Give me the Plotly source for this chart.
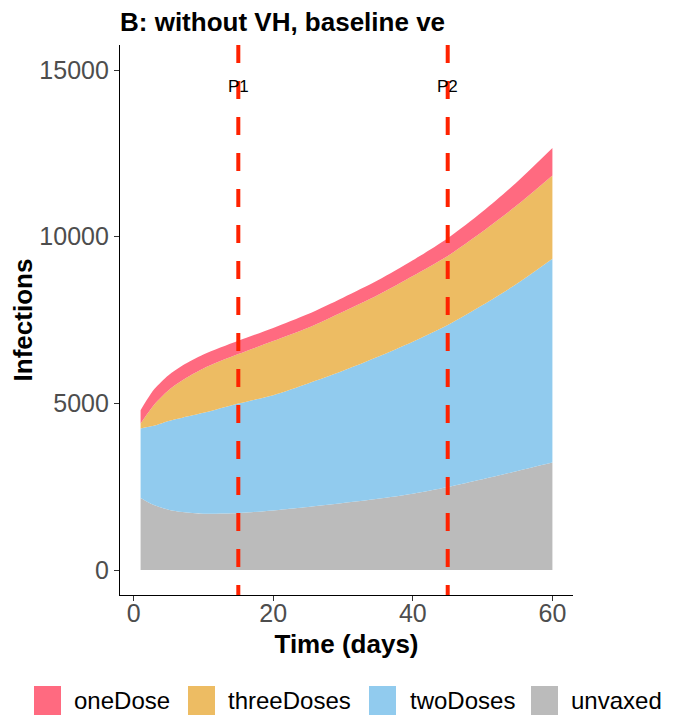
import plotly.graph_objects as go

# ---- data ----
days = [1, 2, 3, 5, 7, 10, 15, 20, 25, 30, 35, 40, 45, 50, 55, 60]
unvaxed = [2158, 2040, 1939, 1809, 1738, 1688, 1708, 1788, 1889, 2009, 2139, 2290, 2490, 2720, 2970, 3222]
twoDoses = [2085, 2250, 2396, 2664, 2832, 3026, 3287, 3457, 3707, 3967, 4258, 4558, 4859, 5230, 5632, 6117]
threeDoses = [150, 404, 639, 922, 1126, 1333, 1482, 1623, 1672, 1774, 1853, 1974, 2074, 2204, 2354, 2498]
oneDose = [401, 440, 460, 450, 440, 420, 400, 395, 410, 420, 440, 470, 532, 600, 700, 823]

phase_days = [15, 45]
phase_labels = ["P1", "P2"]
phase_label_y = 14500

x_ticks = [0, 20, 40, 60]
y_ticks = [0, 5000, 10000, 15000]

series_names = ["unvaxed", "twoDoses", "threeDoses", "oneDose"]
series_values = [unvaxed, twoDoses, threeDoses, oneDose]
colors = {"oneDose": "#FF6A80", "threeDoses": "#EDBC63", "twoDoses": "#91CBEE", "unvaxed": "#BBBBBB"}
legend_order = ["oneDose", "threeDoses", "twoDoses", "unvaxed"]

FONT = "Liberation Sans, Arial, sans-serif"
OFF = 8  # page body margin offset
W, H = 673 - OFF, 717 - OFF
ML, MT, PW, PH = 120 - OFF, 45 - OFF, 453, 550
MR = W - ML - PW
MB = H - MT - PH

fig = go.Figure()
for name, vals in zip(series_names, series_values):
    fig.add_trace(go.Scatter(
        x=days, y=vals, name=name, stackgroup="one", mode="lines",
        line=dict(width=0, shape="spline", smoothing=0.8),
        fillcolor=colors[name], showlegend=False, hoverinfo="x+y+name",
    ))

for d, lab in zip(phase_days, phase_labels):
    fig.add_shape(type="line", xref="x", yref="paper", x0=d, x1=d, y0=1, y1=0,
                  line=dict(color="#FF2200", width=4, dash="18px,18px"))
    fig.add_annotation(x=d, y=phase_label_y, xref="x", yref="y", text=lab,
                       showarrow=False, font=dict(family=FONT, size=17, color="black"),
                       xanchor="center", yanchor="middle")

# ---- custom legend (large square keys like ggplot), positions in window px ----
def pxx(px):
    return (px - OFF - ML) / PW

def pxy(py):
    return (MT + PH - (py - OFF)) / PH

key_left = [34, 188, 369, 531]
text_left = [72, 226, 408, 569]
key_w, key_top, key_bot, text_y = 27, 686, 715, 700
for name, kl, tl in zip(legend_order, key_left, text_left):
    fig.add_shape(type="rect", xref="paper", yref="paper",
                  x0=pxx(kl), x1=pxx(kl + key_w), y0=pxy(key_bot), y1=pxy(key_top),
                  fillcolor=colors[name], line=dict(width=0))
    fig.add_annotation(xref="paper", yref="paper", x=pxx(tl), y=pxy(text_y), text=name,
                       showarrow=False, xanchor="left", yanchor="middle",
                       font=dict(family=FONT, size=24, color="black"))

axis_common = dict(
    showgrid=False, zeroline=False, showline=True, linecolor="black", linewidth=1.2,
    ticks="outside", ticklen=5, tickwidth=1.1, tickcolor="#333333", automargin=False,
    tickfont=dict(family=FONT, size=25, color="#4D4D4D"),
)

fig.update_layout(
    width=W, height=H,
    margin=dict(l=ML, r=MR, t=MT, b=MB, autoexpand=False),
    paper_bgcolor="white", plot_bgcolor="white",
    title=dict(text="B: without VH, baseline ve", x=0, xref="paper", xanchor="left",
               y=1 - 14 / H, yref="container", yanchor="middle",
               font=dict(family=FONT, size=26, color="black", weight="bold")),
    xaxis=dict(range=[-1.95, 62.95], tickvals=x_ticks, ticklabelstandoff=-9, **axis_common,
               title=dict(text="Time (days)", standoff=8,
                          font=dict(family=FONT, size=26, color="black", weight="bold"))),
    yaxis=dict(range=[-750, 15750], tickvals=y_ticks, tickformat="d", **axis_common,
               title=dict(text="Infections", standoff=9,
                          font=dict(family=FONT, size=26, color="black", weight="bold"))),
    showlegend=False,
)

fig.write_html(
    "out.html",
    post_script="document.documentElement.style.overflow='hidden';document.body.style.overflow='hidden';",
)
